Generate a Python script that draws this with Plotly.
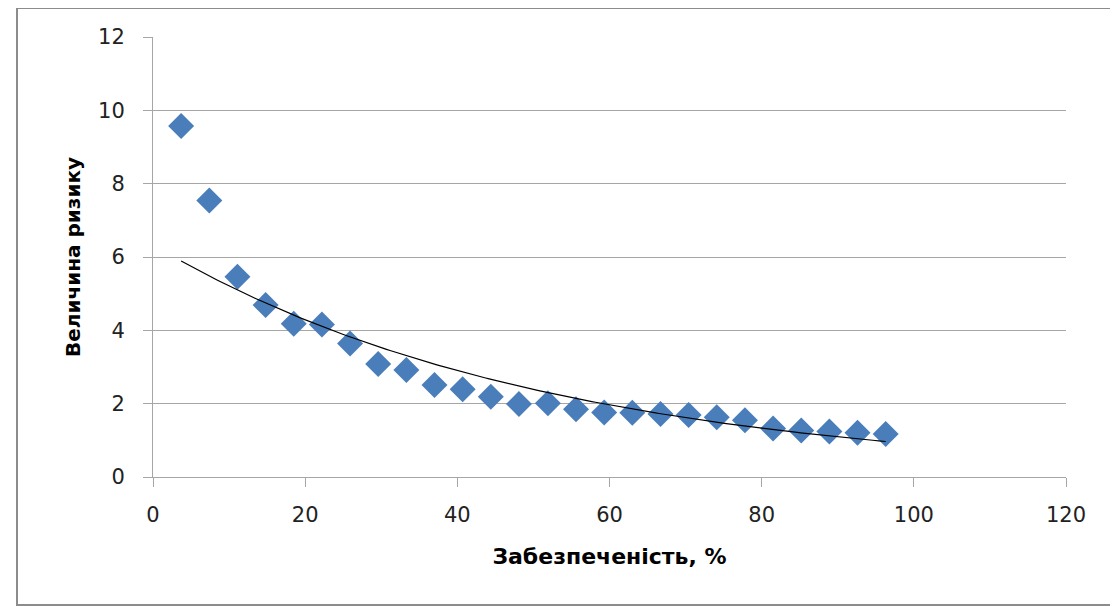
import numpy as np
import plotly.graph_objects as go

# Data
supply_pct = [3.7, 7.4, 11.1, 14.8, 18.5, 22.2, 25.9, 29.6, 33.3, 37.0, 40.7, 44.4, 48.1,
              51.9, 55.6, 59.3, 63.0, 66.7, 70.4, 74.1, 77.8, 81.5, 85.2, 88.9, 92.6, 96.3]
risk_value = [9.57, 7.54, 5.46, 4.69, 4.18, 4.16, 3.64, 3.08, 2.92, 2.51, 2.39, 2.19, 1.99,
              2.01, 1.85, 1.76, 1.75, 1.72, 1.69, 1.63, 1.55, 1.32, 1.27, 1.24, 1.21, 1.17]
x_ticks = [0, 20, 40, 60, 80, 100, 120]
y_ticks = [0, 2, 4, 6, 8, 10, 12]
x_title = "Забезпеченість, %"
y_title = "Величина ризику"

# Exponential trendline fitted to the data (as Excel does)
xa = np.array(supply_pct)
ya = np.array(risk_value)
b, ln_a = np.polyfit(xa, np.log(ya), 1)
trend_x = np.linspace(xa.min(), xa.max(), 200)
trend_y = np.exp(ln_a) * np.exp(b * trend_x)

fig = go.Figure()
fig.add_trace(go.Scatter(
    x=supply_pct, y=risk_value, mode="markers",
    marker=dict(symbol="diamond", size=20, color="#4a7ebb",
                line=dict(width=0)),
    showlegend=False, cliponaxis=False))
fig.add_trace(go.Scatter(
    x=trend_x, y=trend_y, mode="lines",
    line=dict(color="black", width=1.2),
    showlegend=False))

# page body adds an 8px offset; figure coordinates below are page coords - 8
OFF = 8
W, H = 1118 - OFF, 606 - OFF
L, R, T, B = 153 - OFF, 1066 - OFF, 37 - OFF, 477 - OFF
pw, ph = R - L, B - T

def px(xp):
    return (xp - L) / pw

def py(yp):
    return (B - yp) / ph

fig.update_layout(
    width=W, height=H,
    margin=dict(l=L, r=W - R, t=T, b=H - B),
    plot_bgcolor="white", paper_bgcolor="white",
    font=dict(family="DejaVu Sans", color="#222222"),
    xaxis=dict(range=[0, 120], tickvals=x_ticks, showgrid=False, zeroline=False,
               showline=True, linecolor="#a6a6a6", linewidth=1,
               ticks="outside", ticklen=9, tickcolor="#a6a6a6",
               tickfont=dict(family="DejaVu Sans", size=21, color="#222222"),
               ticklabelstandoff=10,
               title=dict(text=x_title, standoff=22,
                          font=dict(family="DejaVu Sans", size=22, color="black",
                                    weight="bold"))),
    yaxis=dict(range=[0, 12], tickvals=y_ticks, showgrid=True, gridcolor="#a6a6a6",
               gridwidth=1, zeroline=False,
               showline=True, linecolor="#a6a6a6", linewidth=1,
               ticks="outside", ticklen=9, tickcolor="#a6a6a6",
               tickfont=dict(family="DejaVu Sans", size=21, color="#222222"),
               ticklabelstandoff=14,
               title=dict(text=y_title, standoff=12,
                          font=dict(family="DejaVu Sans", size=20, color="black",
                                    weight="bold"))),
    shapes=[dict(type="rect", xref="paper", yref="paper",
                 x0=px(OFF + 1), x1=px(1125), y0=py(597), y1=py(0),
                 line=dict(color="#8c8c8c", width=2), layer="below")],
)

fig.write_html("out.html")
